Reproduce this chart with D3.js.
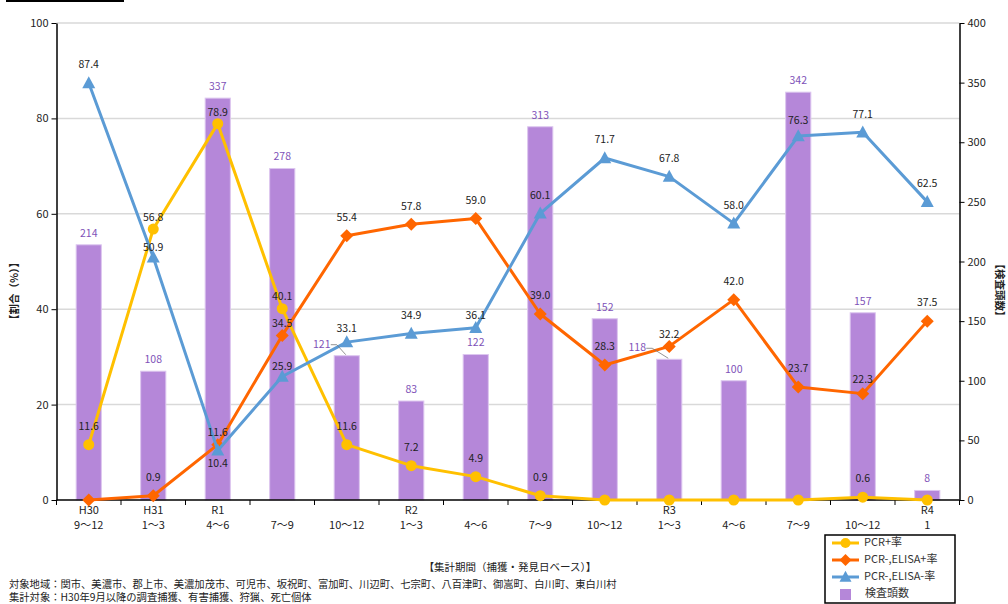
<!DOCTYPE html>
<html lang="ja">
<head>
<meta charset="UTF-8">
<title>検査頭数と陽性率</title>
<script src="https://d3js.org/d3.v7.min.js"></script>
<style>
  body { margin: 0; background: #fff; }
  text { font-family: "Noto Sans CJK JP", "Noto Sans", sans-serif; }
</style>
</head>
<body>
<script>
    // ---- data ----
    const yearLabels   = ["H30","H31","R1","","","R2","","","","R3","","","","R4"];
    const monthLabels  = ["9～12","1～3","4～6","7～9","10～12","1～3","4～6","7～9","10～12","1～3","4～6","7～9","10～12","1"];
    const testCounts   = [214,108,337,278,121,83,122,313,152,118,100,342,157,8];
    const pcrPos       = [11.6,56.8,78.9,40.1,11.6,7.2,4.9,0.9,0,0,0,0,0.6,0];
    const elisaPos     = [0,0.9,11.6,34.5,55.4,57.8,59.0,39.0,28.3,32.2,42.0,23.7,22.3,37.5];
    const elisaNeg     = [87.4,50.9,10.4,25.9,33.1,34.9,36.1,60.1,71.7,67.8,58.0,76.3,77.1,62.5];
    const leftTicks    = [0,20,40,60,80,100];
    const rightTicks   = [0,50,100,150,200,250,300,350,400];

    const width  = 1008;
    const height = 604;
    const plot = {left: 56.5, right: 959.5, top: 23, bottom: 500};

    // label offsets that differ from the default placement
    const labelShift = {
        "neg-1": 8, "neg-2": 31, "neg-3": 8, "neg-4": 5, "neg-6": 6, "neg-11": 3,
        "epos-2": 6, "epos-3": 6, "epos-9": 6, "epos-12": 4,
        "pcr-1": 7, "pcr-2": 7, "pcr-3": 6
    };

    const idx = d3.range(testCounts.length);

    const x = d3.scaleBand()
        .domain(idx)
        .range([plot.left, plot.right])
        .paddingInner(0.61)
        .paddingOuter(0.305);
    const cx = i => x(i) + x.bandwidth() / 2;

    const yL = d3.scaleLinear().domain([0, 100]).range([plot.bottom, plot.top]);
    const yR = d3.scaleLinear().domain([0, 400]).range([plot.bottom, plot.top]);

    const svg = d3.select("body").append("svg")
        .attr("width", width)
        .attr("height", height);

    svg.append("rect").attr("width", width).attr("height", height).attr("fill", "#fff");

    // black bar at the top left
    svg.append("rect").attr("x", 6).attr("y", 0).attr("width", 118).attr("height", 2).attr("fill", "#000");

    // gridlines
    svg.append("g").selectAll("line")
        .data(leftTicks.filter(d => d > 0))
        .join("line")
        .attr("x1", plot.left).attr("x2", plot.right)
        .attr("y1", d => yL(d)).attr("y2", d => yL(d))
        .attr("stroke", "#d9d9d9").attr("stroke-width", 1.5);

    // bars
    svg.append("g").selectAll("rect")
        .data(idx)
        .join("rect")
        .attr("x", i => x(i))
        .attr("y", i => yR(testCounts[i]))
        .attr("width", x.bandwidth())
        .attr("height", i => plot.bottom - yR(testCounts[i]))
        .attr("fill", "#b587d9")
        .attr("stroke", "#dcc6ef")
        .attr("stroke-width", 1);

    // axes
    const axL = svg.append("g")
        .attr("transform", `translate(${plot.left},0)`)
        .call(d3.axisLeft(yL).tickValues(leftTicks).tickSize(5).tickSizeOuter(0));
    const axR = svg.append("g")
        .attr("transform", `translate(${plot.right},0)`)
        .call(d3.axisRight(yR).tickValues(rightTicks).tickSize(5).tickSizeOuter(0));
    [axL, axR].forEach(g => {
        g.select(".domain").attr("stroke", "#000").attr("stroke-width", 1.5);
        g.selectAll(".tick line").attr("stroke", "#000");
        g.selectAll(".tick text")
            .attr("font-size", 11)
            .attr("fill", "#222")
            .style("font-family", '"Noto Sans CJK JP", sans-serif');
    });
    axL.selectAll(".tick text").attr("x", -8);
    axR.selectAll(".tick text").attr("x", 8);

    // x axis line and category boundary ticks
    svg.append("line")
        .attr("x1", plot.left).attr("x2", plot.right)
        .attr("y1", plot.bottom).attr("y2", plot.bottom)
        .attr("stroke", "#000").attr("stroke-width", 1.5);
    svg.append("g").selectAll("line")
        .data(d3.range(testCounts.length + 1))
        .join("line")
        .attr("x1", i => plot.left + i * x.step())
        .attr("x2", i => plot.left + i * x.step())
        .attr("y1", plot.bottom).attr("y2", plot.bottom + 5)
        .attr("stroke", "#000");

    const xl = svg.append("g").attr("font-size", 11).attr("fill", "#222").attr("text-anchor", "middle");
    xl.selectAll("text.yr")
        .data(idx)
        .join("text")
        .attr("class", "yr")
        .attr("x", cx)
        .attr("y", 511)
        .attr("dominant-baseline", "middle")
        .text(i => yearLabels[i]);
    xl.selectAll("text.mo")
        .data(idx)
        .join("text")
        .attr("class", "mo")
        .attr("x", cx)
        .attr("y", 526)
        .attr("dominant-baseline", "middle")
        .text(i => monthLabels[i]);

    // lines
    const series = [
        {key: "pcr",  values: pcrPos,   color: "#ffc000", shape: "circle"},
        {key: "epos", values: elisaPos, color: "#ff6600", shape: "diamond"},
        {key: "neg",  values: elisaNeg, color: "#5b9bd5", shape: "triangle"}
    ];

    function markerPath(shape, s) {
        if (shape === "diamond") return `M0,${-s}L${s},0L0,${s}L${-s},0Z`;
        if (shape === "triangle") return `M0,${-s * 1.05}L${s},${s * 0.8}L${-s},${s * 0.8}Z`;
        return null;
    }

    const line = d3.line().x((d, i) => cx(i)).y(d => yL(d));

    series.forEach(s => {
        const g = svg.append("g");
        g.append("path")
            .datum(s.values)
            .attr("d", line)
            .attr("fill", "none")
            .attr("stroke", s.color)
            .attr("stroke-width", 3)
            .attr("stroke-linejoin", "round");
        if (s.shape === "circle") {
            g.selectAll("circle")
                .data(s.values)
                .join("circle")
                .attr("cx", (d, i) => cx(i))
                .attr("cy", d => yL(d))
                .attr("r", 5.5)
                .attr("fill", s.color);
        } else {
            g.selectAll("path.m")
                .data(s.values)
                .join("path")
                .attr("class", "m")
                .attr("transform", (d, i) => `translate(${cx(i)},${yL(d)})`)
                .attr("d", markerPath(s.shape, 6.5))
                .attr("fill", s.color);
        }
    });

    // bar value labels
    const barLabelShiftX = {4: -25, 9: -32};
    svg.append("g").selectAll("text")
        .data(idx)
        .join("text")
        .attr("x", i => cx(i) + (barLabelShiftX[i] || 0))
        .attr("y", i => yR(testCounts[i]) - 11)
        .attr("dominant-baseline", "middle")
        .attr("text-anchor", "middle")
        .attr("font-size", 10.5)
        .attr("fill", "#7e52b8")
        .text(i => testCounts[i]);

    // leader lines for the moved bar labels
    svg.append("g").selectAll("path")
        .data(Object.keys(barLabelShiftX).map(Number))
        .join("path")
        .attr("d", i => {
            const lx = cx(i) + barLabelShiftX[i] + 9;
            const ly = yR(testCounts[i]) - 11;
            return `M${lx},${ly}H${lx + 6}L${cx(i) - 1},${yR(testCounts[i]) - 1}`;
        })
        .attr("fill", "none")
        .attr("stroke", "#777")
        .attr("stroke-width", 0.8);

    // line value labels (zero values carry no label)
    series.forEach(s => {
        svg.append("g").selectAll("text")
            .data(s.values.map((v, i) => ({v, i})).filter(d => d.v > 0))
            .join("text")
            .attr("x", d => cx(d.i))
            .attr("y", d => yL(d.v) - 17.5 + (labelShift[`${s.key}-${d.i}`] || 0))
            .attr("dominant-baseline", "middle")
            .attr("text-anchor", "middle")
            .attr("font-size", 10.5)
            .attr("fill", "#222")
            .text(d => d.v.toFixed(1));
    });

    // axis titles
    svg.append("text")
        .attr("transform", "translate(15,291) rotate(-90)")
        .attr("text-anchor", "middle")
        .attr("dominant-baseline", "middle")
        .attr("font-size", 10.5)
        .attr("font-weight", "bold")
        .attr("fill", "#222")
        .text("【割合（%）】");
    svg.append("text")
        .attr("transform", "translate(999,290) rotate(90)")
        .attr("text-anchor", "middle")
        .attr("dominant-baseline", "middle")
        .attr("font-size", 10.5)
        .attr("font-weight", "bold")
        .attr("fill", "#222")
        .text("【検査頭数】");
    svg.append("text")
        .attr("x", 510).attr("y", 568)
        .attr("text-anchor", "middle")
        .attr("dominant-baseline", "middle")
        .attr("font-size", 10.5)
        .attr("fill", "#222")
        .text("【集計期間（捕獲・発見日ベース）】");

    // footnotes
    svg.append("text")
        .attr("x", 9).attr("y", 585)
        .attr("dominant-baseline", "middle")
        .attr("font-size", 10.3)
        .attr("fill", "#222")
        .text("対象地域：関市、美濃市、郡上市、美濃加茂市、可児市、坂祝町、富加町、川辺町、七宗町、八百津町、御嵩町、白川町、東白川村");
    svg.append("text")
        .attr("x", 9).attr("y", 598)
        .attr("dominant-baseline", "middle")
        .attr("font-size", 10.3)
        .attr("fill", "#222")
        .text("集計対象：H30年9月以降の調査捕獲、有害捕獲、狩猟、死亡個体");

    // legend
    const legendNames = ["PCR+率", "PCR-,ELISA+率", "PCR-,ELISA-率", "検査頭数"];
    const lg = svg.append("g");
    lg.append("rect")
        .attr("x", 825).attr("y", 535).attr("width", 130).attr("height", 68)
        .attr("fill", "#fff").attr("stroke", "#000").attr("stroke-width", 1.5);
    series.forEach((s, k) => {
        const ly = 543 + k * 17;
        lg.append("line")
            .attr("x1", 832).attr("x2", 859).attr("y1", ly).attr("y2", ly)
            .attr("stroke", s.color).attr("stroke-width", 3);
        if (s.shape === "circle") {
            lg.append("circle").attr("cx", 845.5).attr("cy", ly).attr("r", 5).attr("fill", s.color);
        } else {
            lg.append("path").attr("transform", `translate(845.5,${ly})`)
                .attr("d", markerPath(s.shape, 6)).attr("fill", s.color);
        }
        lg.append("text")
            .attr("x", 864).attr("y", ly)
            .attr("dominant-baseline", "middle")
            .attr("font-size", 11)
            .attr("fill", "#333")
            .text(legendNames[k]);
    });
    lg.append("rect").attr("x", 840).attr("y", 589).attr("width", 11).attr("height", 11).attr("fill", "#b587d9");
    lg.append("text")
        .attr("x", 865).attr("y", 594)
        .attr("dominant-baseline", "middle")
        .attr("font-size", 11)
        .attr("fill", "#333")
        .text(legendNames[3]);
</script>
</body>
</html>
